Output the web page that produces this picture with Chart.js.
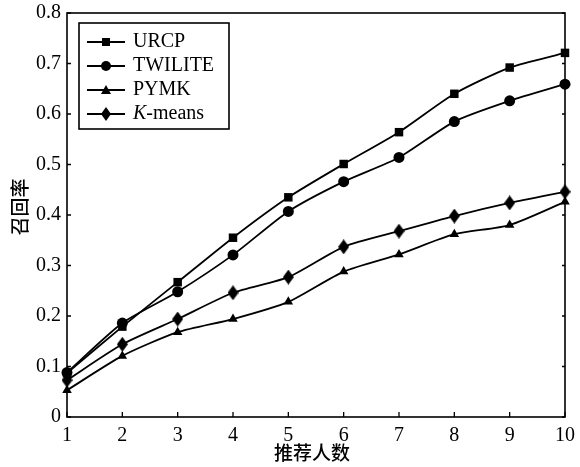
<!DOCTYPE html>
<html>
<head>
<meta charset="utf-8">
<script src="https://cdn.jsdelivr.net/npm/chart.js@4/dist/chart.umd.min.js"></script>
<style>
  html, body { margin: 0; padding: 0; background: #fff; }
  #wrap { width: 580px; height: 467px; }
</style>
</head>
<body>
<div id="wrap"><canvas id="c" width="580" height="467"></canvas></div>
<script>
// Data
const categories = ['1', '2', '3', '4', '5', '6', '7', '8', '9', '10'];
const urcp    = [0.087, 0.179, 0.267, 0.355, 0.435, 0.501, 0.564, 0.640, 0.692, 0.721];
const twilite = [0.088, 0.186, 0.248, 0.321, 0.407, 0.466, 0.514, 0.585, 0.626, 0.659];
const pymk    = [0.053, 0.121, 0.168, 0.194, 0.228, 0.288, 0.322, 0.362, 0.380, 0.426];
const kmeans  = [0.073, 0.144, 0.194, 0.246, 0.277, 0.337, 0.368, 0.398, 0.424, 0.446];
const yTicks  = [0, 0.1, 0.2, 0.3, 0.4, 0.5, 0.6, 0.7, 0.8];

const SERIF = "'Liberation Serif', 'Times New Roman', serif";
const CJK = "'Noto Sans CJK SC', sans-serif";

// Tall diamond marker (Chart.js rectRot is a square).
function diamondImage(w, h) {
    const c = document.createElement('canvas');
    c.width = w; c.height = h;
    const g = c.getContext('2d');
    g.fillStyle = '#000';
    g.beginPath();
    g.moveTo(w / 2, 0); g.lineTo(w, h / 2); g.lineTo(w / 2, h); g.lineTo(0, h / 2);
    g.closePath(); g.fill();
    return c;
}
const diamond = diamondImage(11, 15);

function series(label, data, pointStyle, radius) {
    return {
        label, data, pointStyle,
        borderColor: '#000', backgroundColor: '#000',
        borderWidth: 1.8, pointRadius: radius, pointHoverRadius: radius,
        pointBorderWidth: 0, tension: 0.22, clip: false,
    };
}

// Legend marker shapes (drawn in the custom legend box).
function legendMarker(ctx, kind, x, y) {
    ctx.fillStyle = '#000';
    ctx.beginPath();
    if (kind === 'rect') ctx.rect(x - 4, y - 4, 8, 8);
    else if (kind === 'circle') ctx.arc(x, y, 5, 0, Math.PI * 2);
    else if (kind === 'triangle') { ctx.moveTo(x, y - 5); ctx.lineTo(x + 5, y + 4); ctx.lineTo(x - 5, y + 4); ctx.closePath(); }
    else { ctx.moveTo(x, y - 7); ctx.lineTo(x + 5, y); ctx.lineTo(x, y + 7); ctx.lineTo(x - 5, y); ctx.closePath(); }
    ctx.fill();
}

const framePlugin = {
    id: 'frame',
    afterDraw(chart) {
        const { ctx, chartArea: a, scales } = chart;
        ctx.save();
        ctx.strokeStyle = '#000';
        ctx.lineWidth = 1.6;
        ctx.strokeRect(a.left, a.top, a.right - a.left, a.bottom - a.top);

        // inward ticks
        ctx.lineWidth = 1.3;
        ctx.beginPath();
        yTicks.forEach(v => {
            const y = scales.y.getPixelForValue(v);
            ctx.moveTo(a.left, y); ctx.lineTo(a.left + 4, y);
            ctx.moveTo(a.right, y); ctx.lineTo(a.right - 3, y);
        });
        categories.forEach((_, i) => {
            const x = scales.x.getPixelForValue(i);
            ctx.moveTo(x, a.bottom); ctx.lineTo(x, a.bottom - 5);
        });
        ctx.stroke();

        // axis titles
        ctx.fillStyle = '#000';
        ctx.font = '500 19px ' + CJK;
        ctx.textAlign = 'center';
        ctx.textBaseline = 'middle';
        ctx.fillText('推荐人数', 312, 453);
        ctx.save();
        ctx.translate(20, 207);
        ctx.rotate(-Math.PI / 2);
        ctx.fillText('召回率', 0, 0);
        ctx.restore();

        // legend box
        const lx = 79, ly = 23, lw = 150, lh = 106;
        ctx.fillStyle = '#fff';
        ctx.fillRect(lx, ly, lw, lh);
        ctx.lineWidth = 1.6;
        ctx.strokeRect(lx, ly, lw, lh);
        const kinds = ['rect', 'circle', 'triangle', 'diamond'];
        chart.data.datasets.forEach((ds, i) => {
            const y = 42 + i * 24;
            ctx.lineWidth = 1.8;
            ctx.beginPath();
            ctx.moveTo(87, y); ctx.lineTo(125, y);
            ctx.stroke();
            legendMarker(ctx, kinds[i], 106, y);
            ctx.fillStyle = '#000';
            ctx.textAlign = 'left';
            ctx.textBaseline = 'middle';
            if (ds.label === 'K-means') {
                ctx.font = 'italic 20px ' + SERIF;
                ctx.fillText('K', 133, y);
                const w = ctx.measureText('K').width;
                ctx.font = '20px ' + SERIF;
                ctx.fillText('-means', 133 + w, y);
            } else {
                ctx.font = '20px ' + SERIF;
                ctx.fillText(ds.label, 133, y);
            }
        });
        ctx.restore();
    }
};

new Chart(document.getElementById('c'), {
    type: 'line',
    data: {
        labels: categories,
        datasets: [
            series('URCP', urcp, 'rect', 6),
            series('TWILITE', twilite, 'circle', 5.5),
            series('PYMK', pymk, 'triangle', 5.5),
            series('K-means', kmeans, diamond, 6),
        ],
    },
    options: {
        responsive: false,
        animation: false,
        layout: { padding: { left: 0, top: 13, right: 15, bottom: 0 } },
        plugins: { legend: { display: false }, tooltip: { enabled: false } },
        scales: {
            x: {
                offset: false,
                grid: { drawOnChartArea: false, drawTicks: false },
                border: { display: false },
                ticks: { color: '#000', font: { family: SERIF, size: 20 }, padding: 7, maxRotation: 0, autoSkip: false },
                afterFit: s => { s.height = 50; s.paddingLeft = 0; s.paddingRight = 0; },
            },
            y: {
                min: 0, max: 0.8,
                grid: { drawOnChartArea: false, drawTicks: false },
                border: { display: false },
                ticks: {
                    stepSize: 0.1, color: '#000', padding: 6,
                    font: { family: SERIF, size: 20 },
                    callback: v => (v === 0 ? '0' : v.toFixed(1)),
                },
                afterFit: s => { s.width = 67; s.paddingTop = 0; s.paddingBottom = 0; },
            },
        },
    },
    plugins: [framePlugin],
});
</script>
</body>
</html>
